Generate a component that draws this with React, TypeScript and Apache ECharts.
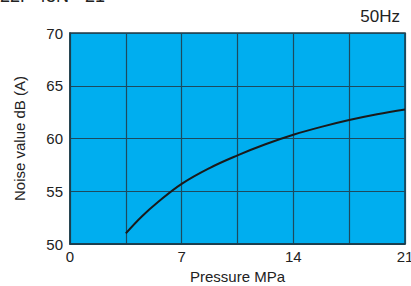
import React, { useEffect, useRef } from "react";
import * as echarts from "echarts";

const pressure = [3.5, 4.5, 5.5, 7.0, 8.75, 10.5, 12.25, 14.0, 15.75, 17.5, 19.25, 21.0];
const noise = [51.0, 52.6, 53.95, 55.7, 57.2, 58.4, 59.45, 60.35, 61.1, 61.75, 62.3, 62.75];
const xTicksShown = [0, 7, 14, 21];
const titleText = "22F 45N - 21";
const freqText = "50Hz";
const xName = "Pressure MPa";
const yName = "Noise value dB (A)";

export default function App() {
  const ref = useRef<HTMLDivElement>(null);
  useEffect(() => {
    document.body.style.margin = "0";
    const chart = echarts.init(ref.current!, null, { renderer: "svg" });
    const font = "Liberation Sans, Arial, Helvetica, sans-serif";
    chart.setOption({
      animation: false,
      textStyle: { fontFamily: font },
      graphic: [
        {
          type: "text",
          left: 0,
          top: -13,
          style: { text: titleText, fontSize: 18, fill: "#222", fontFamily: font },
        },
        {
          type: "text",
          right: 11,
          top: 8,
          style: { text: freqText, fontSize: 17, fill: "#222", fontFamily: font },
        },
      ],
      grid: {
        left: 70,
        top: 33,
        right: 6,
        bottom: 42,
        outerBoundsMode: "none",
        containLabel: false,
        show: true,
        backgroundColor: "#00AEEF",
        borderColor: "#1d3b48",
        borderWidth: 1.5,
      },
      xAxis: {
        type: "value",
        min: 0,
        max: 21,
        interval: 3.5,
        name: xName,
        nameLocation: "middle",
        nameGap: 24,
        nameTextStyle: { fontSize: 15, color: "#222", fontFamily: font },
        axisLine: { show: true, lineStyle: { color: "#1d3b48", width: 1.5 } },
        axisTick: { show: false },
        axisLabel: {
          fontSize: 15,
          color: "#222",
          margin: 5,
          fontFamily: font,
          formatter: (v: number) => (xTicksShown.includes(v) ? String(v) : ""),
        },
        splitLine: { show: true, lineStyle: { color: "#1d4a5e", width: 1.2 } },
      },
      yAxis: {
        type: "value",
        min: 50,
        max: 70,
        interval: 5,
        name: yName,
        nameLocation: "middle",
        nameGap: 43,
        nameTextStyle: { fontSize: 15, color: "#222", fontFamily: font },
        axisLine: { show: true, lineStyle: { color: "#1d3b48", width: 1.5 } },
        axisTick: { show: false },
        axisLabel: { fontSize: 15, color: "#222", margin: 7, fontFamily: font },
        splitLine: { show: true, lineStyle: { color: "#1d4a5e", width: 1.2 } },
      },
      series: [
        {
          type: "line",
          data: pressure.map((p, i) => [p, noise[i]]),
          smooth: 0.4,
          symbol: "none",
          lineStyle: { color: "#1a1a1a", width: 2 },
        },
      ],
    });
    return () => chart.dispose();
  }, []);
  return <div ref={ref} style={{ width: 411, height: 286 }} />;
}
